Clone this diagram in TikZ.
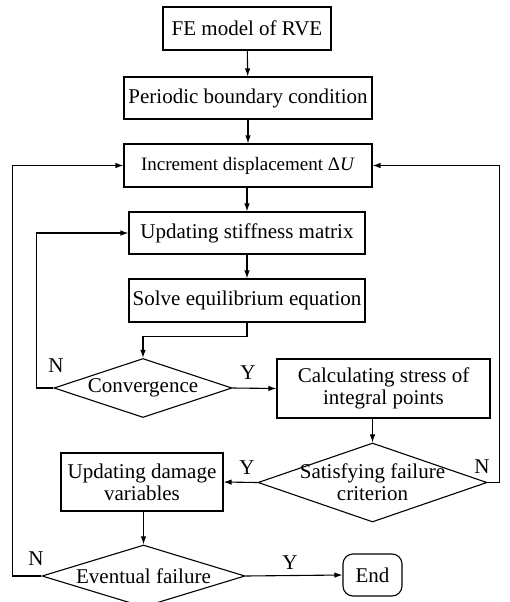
\documentclass[tikz,border=0pt]{standalone}
\usepackage{fontspec}
\setmainfont{Liberation Serif}
\usetikzlibrary{shapes.geometric,arrows.meta}

\begin{document}
\begin{tikzpicture}[
  x = 1pt, y = -1pt,
  every node/.style = {font = \fontsize{21}{22}\selectfont},
  block/.style = {draw, line width = 1.1pt, inner sep = 0pt, align = center},
  decision/.style = {draw, diamond, line width = 1.1pt, inner sep = 0pt},
  tag/.style = {inner sep = 0pt},
  flow/.style = {line width = 1.1pt, -{Latex[length = 8pt, width = 5.5pt]}},
  ]
  \clip (0,0) rectangle (509,602);
  \node[block, minimum width = 168pt, minimum height = 43pt] (fe) at (247,28.5) {FE model of RVE};
  \node[block, minimum width = 248pt, minimum height = 42pt] (pbc) at (248,98) {Periodic boundary condition};
  \node[block, minimum width = 248pt, minimum height = 43pt, font = \fontsize{19}{22}\selectfont] (inc) at (248,165.5) {Increment displacement Δ\textit{U}};
  \node[block, minimum width = 236pt, minimum height = 42pt] (stiff) at (247,233) {Updating stiffness matrix};
  \node[block, minimum width = 236pt, minimum height = 43pt] (solve) at (247,300.5) {Solve equilibrium equation};
  \node[decision, minimum width = 178pt, minimum height = 59pt, label = center:Convergence] (conv) at (143,388) {};
  \node[block, minimum width = 213pt, minimum height = 59pt] (calc) at (383.5,388.5) {Calculating stress of\\integral points};
  \node[decision, minimum width = 229pt, minimum height = 79pt, label = {[align = center]center:Satisfying failure\\criterion}] (sat) at (372.5,482.5) {};
  \node[block, minimum width = 162pt, minimum height = 58pt] (dmg) at (142,482) {Updating damage\\variables};
  \node[decision, minimum width = 203pt, minimum height = 62pt, label = center:Eventual failure] (ev) at (143.5,576) {};
  \node[block, rounded corners = 10pt, minimum width = 59pt, minimum height = 42pt] (stop) at (372.5,575) {End};

  \node[tag] (convN) at (56,366) {N};
  \node[tag] (convY) at (248,373) {Y};
  \node[tag] (satY) at (247,468) {Y};
  \node[tag] (satN) at (482,467) {N};
  \node[tag] (evN) at (36,559) {N};
  \node[tag] (evY) at (290,563) {Y};

  \draw[flow] (fe) -- (pbc);
  \draw[flow] (pbc) -- (inc);
  \draw[flow] (inc.south -| stiff.north) -- (stiff);
  \draw[flow] (stiff) -- (solve);
  \draw[flow] (solve.south) -- ++(0,14) -| (conv.north);
  \draw[flow] (conv.west) -- ++(-17,0) |- (stiff.west);
  \draw[flow] (conv.east) -- (calc.west);
  \draw[flow] (calc.south -| sat.north) -- (sat.north);
  \draw[flow] (sat.west) -- (dmg.east);
  \draw[flow] (sat.east) -- ++(12,0) |- (inc.east);
  \draw[flow] (dmg.south -| ev.north) -- (ev.north);
  \draw[flow] (ev.west) -- ++(-29,0) |- (inc.west);
  \draw[flow] (ev.east) -- (stop.west);
\end{tikzpicture}
\end{document}
